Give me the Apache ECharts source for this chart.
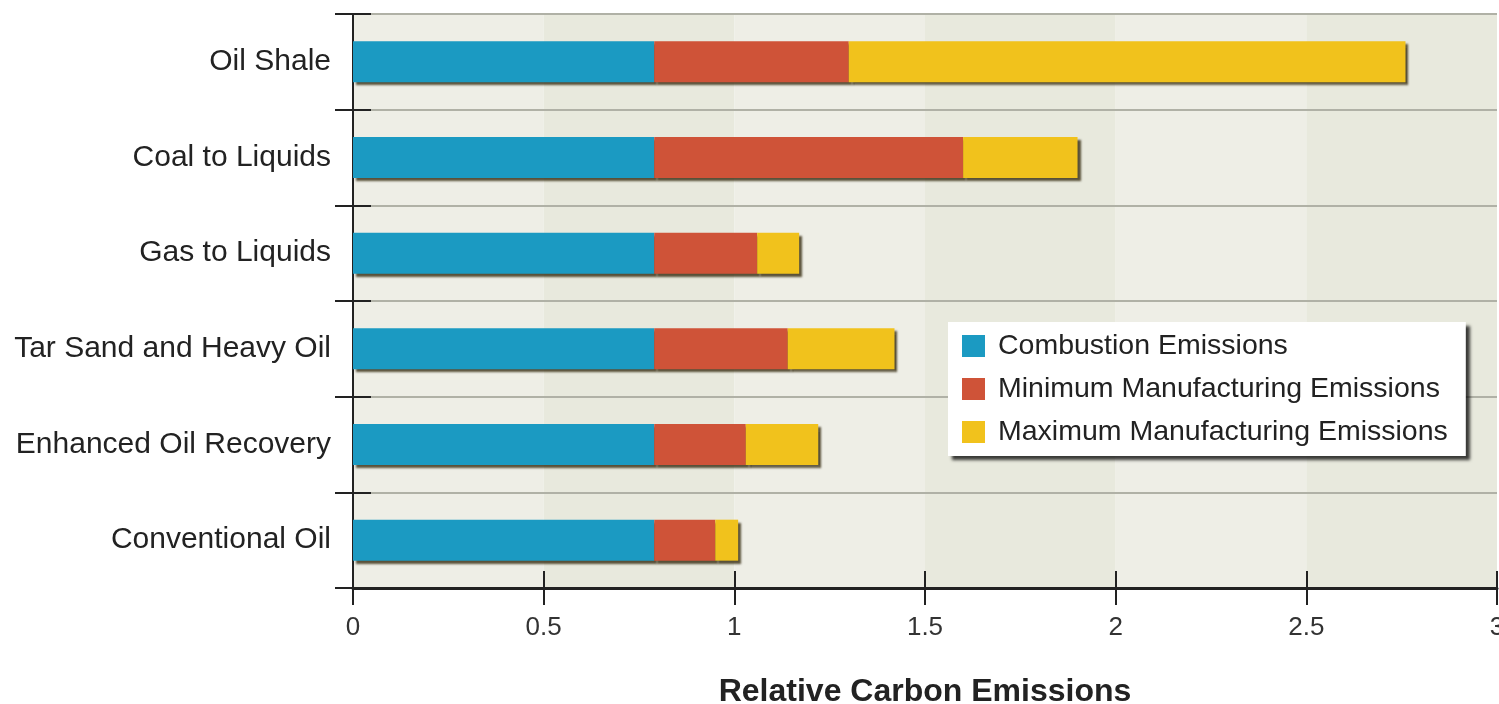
<!DOCTYPE html>
<html>
<head>
<meta charset="utf-8">
<script src="https://cdn.jsdelivr.net/npm/echarts@6/dist/echarts.min.js"></script>
<style>
  html, body { margin: 0; padding: 0; background: #fff; }
  #carbon_chart { width: 1499px; height: 704px; }
</style>
</head>
<body>
<div id="carbon_chart"></div>
<script>
// categories, top to bottom
const categories = ['Oil Shale', 'Coal to Liquids', 'Gas to Liquids', 'Tar Sand and Heavy Oil', 'Enhanced Oil Recovery', 'Conventional Oil']
// stacked segments (relative carbon emissions)
const combustionData = [0.79, 0.79, 0.79, 0.79, 0.79, 0.79]
const minManufData = [0.51, 0.81, 0.27, 0.35, 0.24, 0.16]
const maxManufData = [1.46, 0.30, 0.11, 0.28, 0.19, 0.06]
const seriesNames = ['Combustion Emissions', 'Minimum Manufacturing Emissions', 'Maximum Manufacturing Emissions']
const seriesColors = ['#1b9ac2', '#cf5338', '#f1c21c']
const xTicks = { min: 0, max: 3, interval: 0.5 }

const fontFamily = '"Liberation Sans", Arial, sans-serif'
const dom = document.getElementById('carbon_chart')
const myChart = echarts.init(dom)

const seriesData = [combustionData, minManufData, maxManufData].map((data, index) => ({
  name: seriesNames[index],
  type: 'bar',
  stack: 'total',
  data: data,
  barWidth: 41,
  itemStyle: {
    color: seriesColors[index],
    shadowColor: 'rgba(40,30,0,0.75)',
    shadowOffsetX: 3,
    shadowOffsetY: 3,
    shadowBlur: 2
  }
}))

const option = {
  animation: false,
  textStyle: { fontFamily: fontFamily },
  grid: { left: 353, right: 2, top: 14, bottom: 116, outerBoundsMode: 'none' },
  legend: {
    orient: 'vertical',
    left: 948,
    top: 322,
    padding: [9, 18, 9, 14],
    itemGap: 13,
    itemWidth: 23,
    itemHeight: 22,
    icon: 'rect',
    backgroundColor: '#ffffff',
    shadowColor: 'rgba(0,0,0,0.75)',
    shadowOffsetX: 4,
    shadowOffsetY: 4,
    shadowBlur: 3,
    textStyle: { fontSize: 28.5, lineHeight: 30, color: '#222', fontFamily: fontFamily, padding: [0, 0, 0, 8] },
    data: seriesNames
  },
  xAxis: [
    {
      type: 'value',
      min: xTicks.min,
      max: xTicks.max,
      interval: xTicks.interval,
      name: 'Relative Carbon Emissions',
      nameLocation: 'middle',
      nameGap: 88,
      nameTextStyle: { fontSize: 32, fontWeight: 'bold', color: '#222', fontFamily: fontFamily },
      axisLine: { show: false },
      axisTick: { show: true, length: 17, lineStyle: { color: '#222', width: 2 } },
      axisLabel: { fontSize: 26, color: '#333', margin: 27, fontFamily: fontFamily },
      splitLine: { show: false },
      splitArea: { show: true, areaStyle: { color: ['#eeeee6', '#e8e9dd'] } }
    },
    {
      type: 'value',
      position: 'bottom',
      z: 3,
      min: xTicks.min,
      max: xTicks.max,
      interval: xTicks.interval,
      axisLine: { show: true, lineStyle: { color: '#222', width: 3 } },
      axisTick: { show: true, inside: true, length: 17, lineStyle: { color: '#222', width: 2 } },
      axisLabel: { show: false },
      splitLine: { show: false }
    }
  ],
  yAxis: [
    {
      type: 'category',
      inverse: true,
      z: 2,
      data: categories,
      axisLine: { show: true, lineStyle: { color: '#222', width: 2 } },
      axisTick: { show: true, length: 18, lineStyle: { color: '#222', width: 2 } },
      axisLabel: { fontSize: 30, color: '#222', margin: 22, fontFamily: fontFamily },
      splitLine: { show: true, lineStyle: { color: '#b0b1a6', width: 2 } }
    },
    {
      type: 'category',
      inverse: true,
      position: 'left',
      z: 3,
      data: categories,
      axisLine: { show: false },
      axisTick: { show: true, inside: true, length: 18, lineStyle: { color: '#222', width: 2 } },
      axisLabel: { show: false },
      splitLine: { show: false }
    }
  ],
  series: seriesData
}

myChart.setOption(option, true)
window.onresize = function () {
  myChart.resize()
}
</script>
</body>
</html>
